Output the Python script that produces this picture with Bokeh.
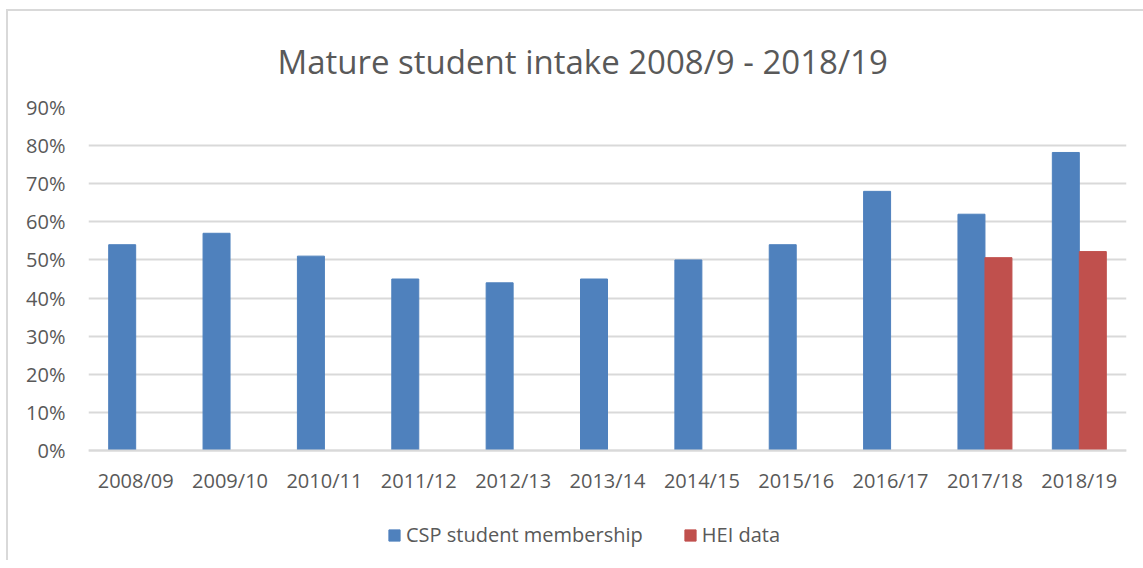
from bokeh.plotting import figure
from bokeh.models import (FactorRange, ColumnDataSource, NumeralTickFormatter, Legend,
                          LegendItem, Range1d, FixedTicker)
from bokeh.transform import dodge
from bokeh.embed import file_html
from bokeh.resources import INLINE

years = ["2008/09", "2009/10", "2010/11", "2011/12", "2012/13", "2013/14",
         "2014/15", "2015/16", "2016/17", "2017/18", "2018/19"]
csp = [0.54, 0.57, 0.51, 0.45, 0.44, 0.45, 0.50, 0.54, 0.68, 0.62, 0.782]
hei_years = ["2017/18", "2018/19"]
hei = [0.506, 0.522]
y_ticks = [0, 0.1, 0.2, 0.3, 0.4, 0.5, 0.6, 0.7, 0.8, 0.9]
title = "Mature student intake 2008/9 - 2018/19"

FONT = "Open Sans"
TXT = "#595959"
GRID = "#d9d9d9"

# value axis spans 0..90%; extra room below 0 holds the legend inside the frame
Y_TOP = 0.9
Y_BOTTOM = -0.2886

p = figure(frame_width=1038, frame_height=453, output_backend="svg", toolbar_location=None,
           x_range=FactorRange(*years, range_padding=0), y_range=Range1d(Y_BOTTOM, Y_TOP),
           min_border_left=80, min_border_right=17, min_border_top=96, min_border_bottom=0)
p.outline_line_color = None
p.background_fill_color = "white"
p.border_fill_color = "white"
# light grey chart-area border on the left and top, like the reference
p.styles = {"margin-left": "6px", "margin-top": "9px",
            "border-left": "2px solid #d9d9d9", "border-top": "2px solid #d9d9d9"}

src1 = ColumnDataSource(dict(x=years, y=csp))
src2 = ColumnDataSource(dict(x=hei_years, y=hei))
r1 = p.vbar(x=dodge("x", -0.143, range=p.x_range), top="y", bottom=0, width=0.286,
            source=src1, fill_color="#4f81bd", line_color="#4f81bd")
r2 = p.vbar(x=dodge("x", 0.143, range=p.x_range), top="y", bottom=0, width=0.286,
            source=src2, fill_color="#c0504d", line_color="#c0504d")

p.yaxis.ticker = FixedTicker(ticks=y_ticks)
p.yaxis.formatter = NumeralTickFormatter(format="0%")
p.yaxis.axis_line_color = None
p.yaxis.major_tick_line_color = None
p.yaxis.minor_tick_line_color = None
p.yaxis.major_label_text_font = FONT
p.yaxis.major_label_text_font_size = "20px"
p.yaxis.major_label_text_color = TXT
p.yaxis.major_label_standoff = 17

p.xaxis.fixed_location = 0
p.xaxis.axis_line_color = GRID
p.xaxis.axis_line_width = 2
p.xaxis.major_tick_line_color = None
p.xaxis.minor_tick_line_color = None
p.xaxis.major_label_text_font = FONT
p.xaxis.major_label_text_font_size = "20px"
p.xaxis.major_label_text_color = TXT
p.xaxis.major_label_standoff = 10

p.xgrid.grid_line_color = None
p.ygrid.grid_line_color = GRID
p.ygrid.grid_line_width = 2

p.title.text = title
p.title.text_font = FONT
p.title.text_font_size = "33px"
p.title.text_font_style = "normal"
p.title.text_color = TXT
p.title.align = "left"
p.title.offset = 189
p.title.standoff = 48

legend = Legend(items=[LegendItem(label="CSP student membership", renderers=[r1]),
                       LegendItem(label="HEI data", renderers=[r2])],
                orientation="horizontal", location=(299, 12),
                label_text_font=FONT, label_text_font_size="20px", label_text_color=TXT,
                glyph_width=14, glyph_height=14, spacing=40, padding=0, margin=0,
                label_standoff=5, border_line_color=None, background_fill_alpha=0)
p.add_layout(legend, "center")

open("out.html", "w").write(file_html(p, INLINE))
